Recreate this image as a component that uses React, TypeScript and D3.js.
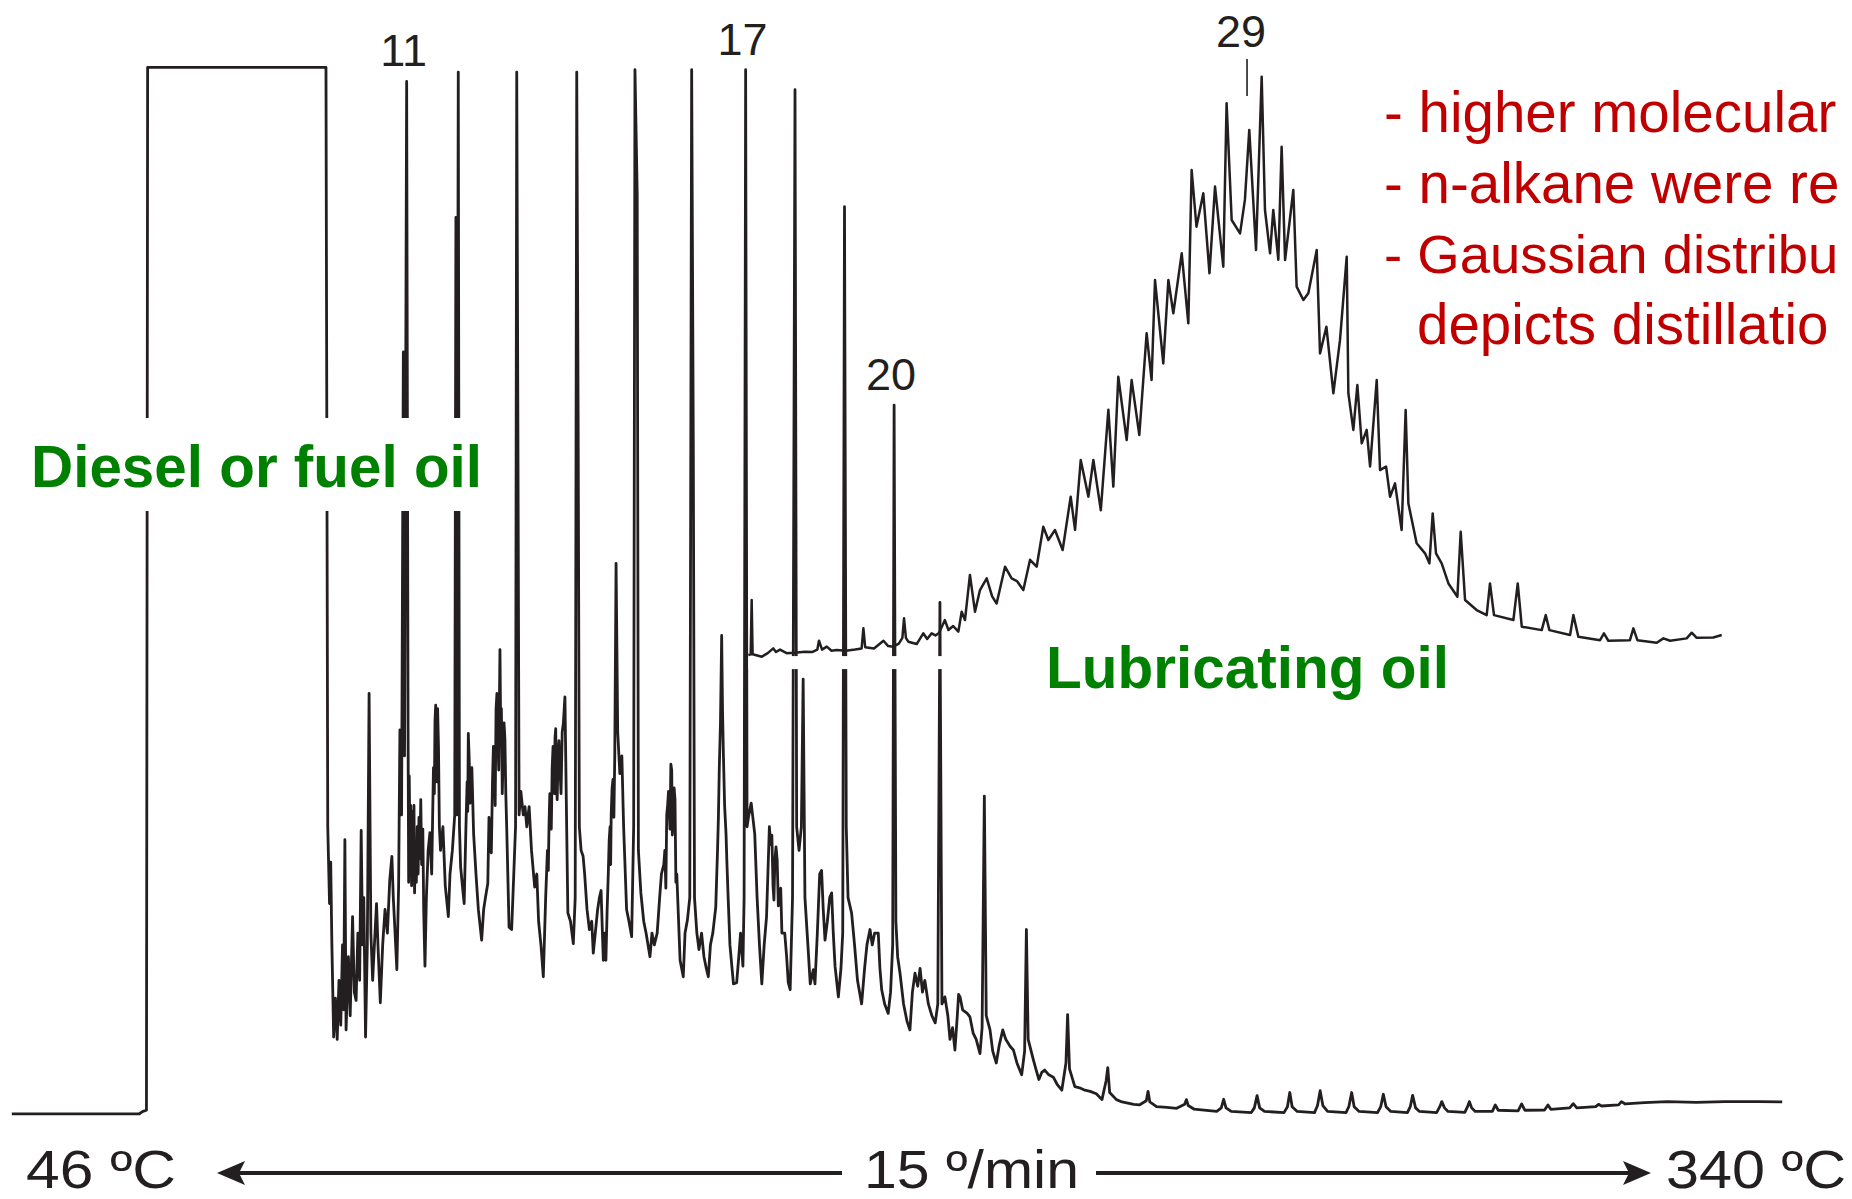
import * as d3 from "d3";

// GC-FID trace, [retention time (min), detector signal]
const dieselTrace: [number, number][] = [
  [0, -0.1], [2.16, -0.1], [2.22, 0.1], [2.28, 0.2], [2.3, 88.5], [5.32, 88.5],
  [5.35, 24.2], [5.38, 17.7], [5.4, 21.2], [5.42, 14.2], [5.45, 6.4], [5.48, 9.7], [5.51, 6.2], [5.54, 11.2],
  [5.57, 7.4], [5.6, 14.2], [5.62, 8.7], [5.64, 23.1], [5.66, 7.0], [5.7, 13.2], [5.73, 8.2], [5.77, 16.6],
  [5.8, 10.2], [5.83, 9.5], [5.86, 15.2], [5.89, 11.2], [5.916, 23.9], [5.94, 14.2], [5.96, 18.2], [5.99, 6.4],
  [6.02, 14.2], [6.05, 35.5], [6.08, 15.2], [6.11, 11.2], [6.14, 14.2], [6.176, 17.7], [6.2, 14.2], [6.24, 9.3],
  [6.28, 14.2], [6.32, 17.2], [6.36, 15.2], [6.4, 19.7], [6.436, 21.7], [6.46, 18.2], [6.49, 15.2], [6.52, 12.1],
  [6.55, 19.2], [6.572, 32.4], [6.6, 25.2], [6.63, 64.4], [6.65, 30.2], [6.686, 87.3], [6.71, 32.2], [6.72, 19.5],
  [6.73, 28.5], [6.745, 21], [6.755, 26], [6.77, 19.2], [6.785, 25.5], [6.8, 22], [6.81, 26], [6.82, 18.6],
  [6.835, 23], [6.85, 19.5], [6.865, 24.2], [6.88, 20.2], [6.895, 25], [6.91, 21.5], [6.925, 26.5], [6.94, 21],
  [6.96, 24], [6.975, 17], [6.996, 12.4], [7.02, 18.2], [7.05, 22.2], [7.08, 23.7], [7.11, 20.2], [7.14, 29.2],
  [7.155, 27], [7.166, 33.2], [7.178, 34.5], [7.19, 30.2], [7.2, 28], [7.21, 34.2], [7.225, 31], [7.24, 24.2],
  [7.26, 22.2], [7.3, 24.2], [7.34, 19.2], [7.392, 16.6], [7.42, 20.2], [7.46, 22.2],
  [7.5, 25.2], [7.52, 75.8], [7.536, 25.2], [7.56, 88.1], [7.58, 24.2], [7.6, 20.8], [7.63, 19.2], [7.66, 17.7],
  [7.69, 24.2], [7.71, 28], [7.72, 25.5], [7.73, 32.1], [7.745, 30], [7.76, 26.2], [7.79, 29.2], [7.82, 23.6],
  [7.86, 20.2], [7.9, 17.2], [7.956, 14.6],
  [7.99, 17.2], [8.02, 18.2], [8.06, 19.4], [8.08, 25], [8.1, 22.2], [8.12, 22], [8.14, 28.2], [8.155, 31],
  [8.17, 30.1], [8.185, 26], [8.2, 34.2], [8.215, 35.5], [8.23, 32.2], [8.245, 29], [8.266, 39.2], [8.28, 31.5],
  [8.29, 34.2], [8.305, 27], [8.32, 30.2], [8.335, 33], [8.35, 31.6], [8.365, 27], [8.38, 24.2], [8.42, 15.7],
  [8.464, 15.5], [8.5, 20.2],
  [8.53, 24.2], [8.55, 88.1], [8.57, 57.5], [8.59, 25.2], [8.62, 27.2], [8.66, 25.2], [8.69, 25.9], [8.72, 24.2],
  [8.76, 25.9], [8.8, 22.2], [8.854, 19.1], [8.89, 20.2], [8.92, 16.2], [8.96, 14.2], [9.0, 11.5], [9.04, 18.2],
  [9.07, 22.2], [9.085, 20.5], [9.096, 24.2], [9.11, 27], [9.12, 26.2], [9.135, 24], [9.15, 29.2], [9.165, 31],
  [9.18, 30.2], [9.19, 27], [9.198, 31.7], [9.21, 32.5], [9.22, 28.2], [9.235, 26.5], [9.25, 30.2], [9.265, 31.5],
  [9.28, 29.3], [9.3, 27], [9.32, 32.2], [9.34, 33], [9.366, 35.2], [9.39, 26.2], [9.416, 16.9], [9.46, 16.2],
  [9.508, 14.3], [9.54, 18.2],
  [9.566, 88.1], [9.59, 58.5], [9.61, 24.2], [9.64, 22.2], [9.674, 21.7], [9.7, 20.2], [9.74, 17.2], [9.78, 15.5],
  [9.82, 16.2], [9.846, 13.5], [9.88, 15.2], [9.92, 17.2], [9.95, 18.2], [9.978, 18.8], [10.016, 12.9], [10.04, 15.2],
  [10.06, 12.9], [10.08, 17], [10.1, 20.2], [10.115, 23], [10.13, 24.2], [10.14, 21], [10.15, 25.3], [10.165, 27.5],
  [10.18, 28.2], [10.195, 25], [10.21, 30.2], [10.232, 46.5], [10.26, 32.2],
  [10.296, 28.7], [10.33, 30.2], [10.36, 24.2], [10.41, 17.2], [10.45, 16.2], [10.496, 14.9], [10.53, 24.2], [10.552, 88.3],
  [10.59, 77.8], [10.61, 22.2], [10.652, 18.6], [10.7, 16.2], [10.74, 15.2], [10.806, 13.2], [10.84, 15.2], [10.88, 14.2],
  [10.928, 15.2], [10.97, 18.2], [11.0, 20.2], [11.04, 21], [11.058, 22.2], [11.075, 19], [11.09, 25.2], [11.105, 26],
  [11.12, 27.2], [11.145, 24], [11.16, 29.5], [11.174, 29.0], [11.185, 23.5], [11.2, 25.2], [11.215, 27.5],
  [11.23, 26.5], [11.245, 19.5], [11.26, 20.2], [11.316, 12.9], [11.37, 11.5], [11.4, 15.2], [11.44, 16.3], [11.48, 18.2],
  [11.512, 88.3],
  [11.54, 56.2], [11.56, 18.2], [11.6, 15.2], [11.636, 13.8], [11.68, 15.2], [11.72, 13.2], [11.76, 12.2], [11.794, 11.5],
  [11.83, 14.2], [11.87, 15.2], [11.92, 17.4], [11.95, 22.2], [11.965, 25], [11.98, 29.2], [12.0, 33], [12.02, 40.4],
  [12.035, 34], [12.05, 30.2], [12.07, 26], [12.094, 23.6], [12.11, 21],
  [12.13, 18.2], [12.16, 14.2], [12.22, 10.9], [12.274, 11.0], [12.31, 13.2], [12.34, 15.2], [12.38, 12.4], [12.4, 18.2],
  [12.426, 88.3], [12.45, 24.2], [12.48, 25.2], [12.52, 26.2], [12.58, 23.6], [12.62, 18.2], [12.66, 14.2], [12.7, 10.9],
  [12.74, 14.2], [12.78, 16.6], [12.828, 24.2], [12.85, 22.7], [12.87, 23.5], [12.89, 19.2], [12.905, 18],
  [12.92, 21.2], [12.94, 22.5], [12.96, 21.4], [12.98, 17.5], [13.0, 18.2], [13.02, 19],
  [13.04, 15.2], [13.088, 15.2], [13.12, 13.2], [13.148, 11.0], [13.18, 10.4], [13.22, 18.2], [13.262, 86.6], [13.29, 24.2],
  [13.33, 22.2], [13.37, 24.2], [13.4, 36.7], [13.43, 18.2], [13.48, 14.2], [13.52, 10.9], [13.572, 12.1], [13.6, 10.9],
  [13.64, 15.2], [13.68, 20.2], [13.712, 20.5], [13.74, 17.2], [13.77, 14.6], [13.81, 16.2], [13.85, 18.2], [13.882, 18.6],
  [13.91, 15.2], [13.94, 12.4], [13.996, 9.8], [14.04, 12.2], [14.07, 15.2], [14.1, 76.7], [14.13, 24.2], [14.16, 18.2],
  [14.22, 16.9], [14.27, 14.2], [14.32, 11.2], [14.39, 9.2], [14.44, 12.2], [14.48, 14.2], [14.532, 15.5], [14.57, 14.2],
  [14.61, 15.2], [14.672, 15.2], [14.7, 12.2], [14.73, 10.4], [14.78, 9.2], [14.84, 8.4], [14.88, 10.2], [14.916, 14.2],
  [14.94, 59.9], [14.97, 16.2], [15.0, 13.2], [15.04, 11.8], [15.1, 9.2], [15.16, 7.7], [15.208, 7.0], [15.25, 10.2],
  [15.294, 11.8], [15.34, 10.7], [15.38, 12.2], [15.42, 10.2], [15.46, 11.2], [15.52, 9.2], [15.58, 8.2], [15.636, 7.6],
  [15.68, 9.2], [15.716, 43.2], [15.75, 9.2], [15.8, 9.8], [15.85, 8.2], [15.886, 6.2], [15.93, 7.2], [15.97, 5.3],
  [16.01, 8.2], [16.032, 10.0], [16.056, 9.8], [16.1, 8.7], [16.178, 8.4], [16.224, 8.1], [16.28, 6.7], [16.33, 6.2],
  [16.394, 5.0], [16.43, 7.2], [16.468, 26.8], [16.5, 8.2], [16.564, 7.0], [16.61, 5.2], [16.67, 4.2], [16.72, 5.7],
  [16.78, 7.0], [16.83, 6.2], [16.906, 5.6], [16.96, 5.3], [17.02, 4.2], [17.1, 3.2], [17.15, 5.2], [17.18, 15.5],
  [17.21, 6.2], [17.296, 4.5], [17.34, 3.7], [17.392, 2.8], [17.44, 3.4], [17.49, 3.6], [17.56, 3.2], [17.636, 3.0],
  [17.7, 2.4], [17.78, 1.9], [17.85, 4.2], [17.878, 8.3], [17.91, 3.7], [18.0, 2.2], [18.08, 2.1], [18.17, 1.9],
  [18.26, 1.8], [18.364, 1.6], [18.46, 1.1], [18.53, 2.7], [18.558, 3.8], [18.59, 1.7], [18.704, 1.1], [18.8, 0.9],
  [18.898, 0.8], [19.0, 0.7], [19.092, 0.65], [19.21, 1.0], [19.24, 1.8], [19.27, 0.9], [19.384, 0.5], [19.56, 0.45],
  [19.724, 0.36], [19.86, 0.7], [19.89, 1.1], [19.92, 0.6], [20.016, 0.3], [20.404, 0.1], [20.48, 0.4], [20.52, 1.13],
  [20.56, 0.4], [20.648, 0.1], [20.988, 0], [21.04, 0.4], [21.086, 1.44], [21.13, 0.4], [21.212, 0.1], [21.542, 0],
  [21.6, 0.5], [21.64, 1.7], [21.68, 0.5], [21.766, 0.1], [22.058, 0], [22.11, 0.6], [22.154, 1.86], [22.2, 0.6],
  [22.28, 0.1], [22.592, 0], [22.64, 0.5], [22.688, 1.7], [22.73, 0.5], [22.814, 0.1], [23.126, 0], [23.18, 0.5],
  [23.224, 1.55], [23.27, 0.5], [23.35, 0.1], [23.632, 0], [23.68, 0.5], [23.72, 1.46], [23.77, 0.4], [23.836, 0.1],
  [24.126, 0], [24.18, 0.5], [24.214, 0.93], [24.26, 0.4], [24.32, 0.1], [24.604, 0.02], [24.65, 0.5], [24.68, 0.93],
  [24.72, 0.4], [24.78, 0.1], [25.07, 0.1], [25.12, 0.65], [25.17, 0.2], [25.506, 0.14], [25.566, 0.73], [25.62, 0.2],
  [25.954, 0.22], [26.012, 0.65], [26.06, 0.28], [26.38, 0.4], [26.44, 0.76], [26.5, 0.4], [26.82, 0.5], [26.868, 0.7],
  [26.92, 0.56], [27.208, 0.65], [27.256, 0.93], [27.32, 0.73], [27.646, 0.84], [28.034, 0.93], [28.52, 0.87],
  [29.006, 0.93], [29.588, 0.93], [29.978, 0.9],
];

// lubricating oil trace, signal relative to its own (offset) baseline
const lubeTrace: [number, number][] = [
  [12.472, -0.26], [12.512, -0.2], [12.528, 4.4], [12.544, -0.2], [12.7, -0.4], [12.8, -0.1], [12.894, 0.3], [12.94, 0],
  [13.008, 0.2], [13.12, -0.1], [13.26, -0.06], [13.43, 0.02], [13.56, 0], [13.64, 0.2], [13.668, 0.95], [13.72, 0.2],
  [13.8, 0.45], [13.88, 0.1], [13.968, 0.16], [14.12, 0.1], [14.28, 0.2], [14.39, 0.3], [14.42, 2.0], [14.45, 0.4],
  [14.6, 0.3], [14.76, 0.95], [14.84, 0.5], [14.926, 0.45], [15.02, 0.7], [15.08, 1.2], [15.108, 2.85], [15.14, 1.2],
  [15.18, 0.87], [15.322, 0.67], [15.434, 1.58], [15.5, 1.1], [15.576, 1.58], [15.64, 1.4], [15.7, 1.6], [15.8, 2.7],
  [15.86, 1.86], [15.94, 2.2], [16.028, 1.72], [16.084, 3.4], [16.14, 2.7], [16.224, 6.52], [16.31, 3.4], [16.394, 5.24],
  [16.508, 6.23], [16.6, 4.7], [16.676, 4.1], [16.818, 7.22], [16.93, 6.23], [17.02, 6.0], [17.128, 5.24], [17.242, 7.8],
  [17.354, 7.22], [17.466, 10.6], [17.552, 9.48], [17.664, 10.33], [17.794, 8.63], [17.93, 13.15], [18.004, 10.33],
  [18.1, 16.25], [18.23, 13.15], [18.314, 16.25], [18.44, 12.0], [18.568, 20.5], [18.652, 14.0], [18.736, 23.3],
  [18.878, 17.94], [18.962, 23.02], [19.092, 18.37], [19.216, 26.98], [19.3, 23.02], [19.358, 31.49], [19.498, 24.43],
  [19.584, 31.49], [19.668, 28.67], [19.81, 33.75], [19.922, 27.82], [19.978, 40.8], [20.06, 36.0], [20.176, 38.83],
  [20.28, 32.06], [20.374, 39.4], [20.514, 32.62], [20.57, 46.45], [20.656, 36.57], [20.798, 35.44], [20.88, 38.27],
  [20.954, 44.2], [21.068, 34.03], [21.164, 48.71], [21.22, 37.42], [21.306, 33.75], [21.36, 37.42], [21.446, 33.2],
  [21.502, 42.78], [21.56, 33.18], [21.7, 39.11], [21.756, 30.93], [21.87, 29.8], [21.954, 30.36], [22.096, 34.03],
  [22.152, 25.28], [22.26, 27.54], [22.378, 21.9], [22.49, 26.4], [22.604, 33.47], [22.632, 21.9], [22.716, 18.8],
  [22.784, 22.6], [22.858, 17.66], [22.942, 18.8], [23.0, 15.7], [23.112, 23.02], [23.168, 15.4], [23.27, 15.7],
  [23.338, 13.14], [23.422, 14.27], [23.534, 10.32], [23.602, 20.48], [23.648, 12.58], [23.788, 9.2], [23.93, 8.35],
  [24.004, 7.5], [24.06, 11.73], [24.116, 8.35], [24.212, 7.5], [24.326, 5.8], [24.478, 4.68], [24.534, 10.18],
  [24.608, 4.4], [24.804, 3.55], [24.974, 3.12], [25.03, 5.8], [25.098, 3.12], [25.426, 2.7], [25.5, 5.8], [25.568, 2.14],
  [25.906, 1.85], [25.974, 3.12], [26.036, 1.85], [26.386, 1.43], [26.442, 3.12], [26.526, 1.29], [26.894, 1.0],
  [26.96, 1.57], [27.034, 0.95], [27.4, 1.0], [27.458, 2.0], [27.526, 1.0], [27.854, 0.78], [27.966, 1.15], [28.08, 0.95],
  [28.36, 1.15], [28.446, 1.63], [28.53, 1.2], [28.812, 1.23], [28.954, 1.43],
];

const LUBE_BASELINE = 39; // the lube trace is stacked above the diesel trace

const alkaneLabels = [
  { carbon: 11, time: 6.686, trace: "diesel" },
  { carbon: 17, time: 12.426, trace: "diesel" },
  { carbon: 20, time: 14.94, trace: "diesel" },
  { carbon: 29, time: 20.916, trace: "lube" },
];

const sampleNames = ["Diesel or fuel oil", "Lubricating oil"];

// the notes run off the right edge of the figure; only the visible part is kept
const notes = ["- higher molecular", "- n-alkane were re", "- Gaussian distribu", "depicts distillatio"];

const tempStart = "46 ºC";
const tempEnd = "340 ºC";
const rampRate = "15 º/min";

const W = 1852;
const H = 1199;
const INK = "#231f20";
const GREEN = "#008000";
const RED = "#c00000";
const SANS = "'Liberation Sans', Arial, Helvetica, sans-serif";

export default function App() {
  const x = d3.scaleLinear().domain([0, 30]).range([11.8, 1783.5]);
  const y = d3.scaleLinear().domain([0, 88.5]).range([1112.6, 67.3]);

  const dieselLine = d3
    .line<[number, number]>()
    .x((d) => x(d[0]))
    .y((d) => y(d[1]));
  const lubeLine = d3
    .line<[number, number]>()
    .x((d) => x(d[0]))
    .y((d) => y(d[1] + LUBE_BASELINE));

  const apex = (trace: string, t: number, win: number) => {
    const src = trace === "lube" ? lubeTrace : dieselTrace;
    const off = trace === "lube" ? LUBE_BASELINE : 0;
    return off + (d3.max(src.filter((d) => Math.abs(d[0] - t) <= win), (d) => d[1]) ?? 0);
  };

  const lubeStart = lubeTrace[0][0];
  const lubeEnd = lubeTrace[lubeTrace.length - 1][0];
  const arrowY = 1173;
  const tempBase = 1188;

  return (
    <svg
      width={W}
      height={H}
      viewBox={`0 0 ${W} ${H}`}
      style={{ position: "absolute", left: 0, top: 0, background: "#fff", display: "block" }}
    >
      <rect width={W} height={H} fill="#fff" />

      <path d={dieselLine(dieselTrace) ?? ""} fill="none" stroke={INK} strokeWidth={2.8} strokeLinejoin="round" />

      {/* white strip under the pasted lube trace */}
      <rect
        x={x(lubeStart)}
        y={y(LUBE_BASELINE - 0.35)}
        width={x(lubeEnd) - x(lubeStart)}
        height={y(LUBE_BASELINE - 1.45) - y(LUBE_BASELINE - 0.35)}
        fill="#fff"
      />
      <path d={lubeLine(lubeTrace) ?? ""} fill="none" stroke={INK} strokeWidth={2.5} strokeLinejoin="round" />

      {/* label background of the diesel sample name */}
      <rect x={20} y={418} width={475} height={93} fill="#fff" />
      <text
        x={31}
        y={487}
        fontFamily={SANS}
        fontWeight="bold"
        fontSize={60}
        fill={GREEN}
        textLength={451}
        lengthAdjust="spacingAndGlyphs"
      >
        {sampleNames[0]}
      </text>
      <text
        x={1046}
        y={688}
        fontFamily={SANS}
        fontWeight="bold"
        fontSize={60}
        fill={GREEN}
        textLength={403}
        lengthAdjust="spacingAndGlyphs"
      >
        {sampleNames[1]}
      </text>

      {alkaneLabels.map((p) => {
        const cx = x(p.time);
        if (p.trace === "lube") {
          const bottom = y(apex(p.trace, p.time, 0.06)) - 34;
          const top = bottom - 37;
          return (
            <g key={p.carbon}>
              <line x1={cx} x2={cx} y1={top} y2={bottom} stroke={INK} strokeWidth={1.6} />
              <text x={cx - 6} y={top - 12} textAnchor="middle" fontFamily={SANS} fontSize={45} fill={INK}>
                {p.carbon}
              </text>
            </g>
          );
        }
        const top = y(apex(p.trace, p.time, 0.03));
        return (
          <text key={p.carbon} x={cx - 3} y={top - 15} textAnchor="middle" fontFamily={SANS} fontSize={45} fill={INK}>
            {p.carbon}
          </text>
        );
      })}

      {notes.map((n, i) => (
        <text
          key={n}
          x={i === 3 ? 1417 : 1384}
          y={132 + i * 70.5}
          fontFamily={SANS}
          fontSize={i === 2 ? 54.5 : 56.5}
          fill={RED}
        >
          {n}
        </text>
      ))}

      {/* temperature program */}
      <text x={26} y={tempBase} fontFamily={SANS} fontSize={53} fill={INK} textLength={150} lengthAdjust="spacingAndGlyphs">
        {tempStart}
      </text>
      <text x={864} y={tempBase} fontFamily={SANS} fontSize={53} fill={INK} textLength={215} lengthAdjust="spacingAndGlyphs">
        {rampRate}
      </text>
      <text x={1666} y={tempBase} fontFamily={SANS} fontSize={53} fill={INK} textLength={180} lengthAdjust="spacingAndGlyphs">
        {tempEnd}
      </text>
      <line x1={236} x2={842} y1={arrowY} y2={arrowY} stroke={INK} strokeWidth={4} />
      <path d={`M217,${arrowY} L245,${arrowY - 12} L239,${arrowY} L245,${arrowY + 12} Z`} fill={INK} />
      <line x1={1096} x2={1632} y1={arrowY} y2={arrowY} stroke={INK} strokeWidth={4} />
      <path d={`M1651,${arrowY} L1623,${arrowY - 12} L1629,${arrowY} L1623,${arrowY + 12} Z`} fill={INK} />
    </svg>
  );
}
